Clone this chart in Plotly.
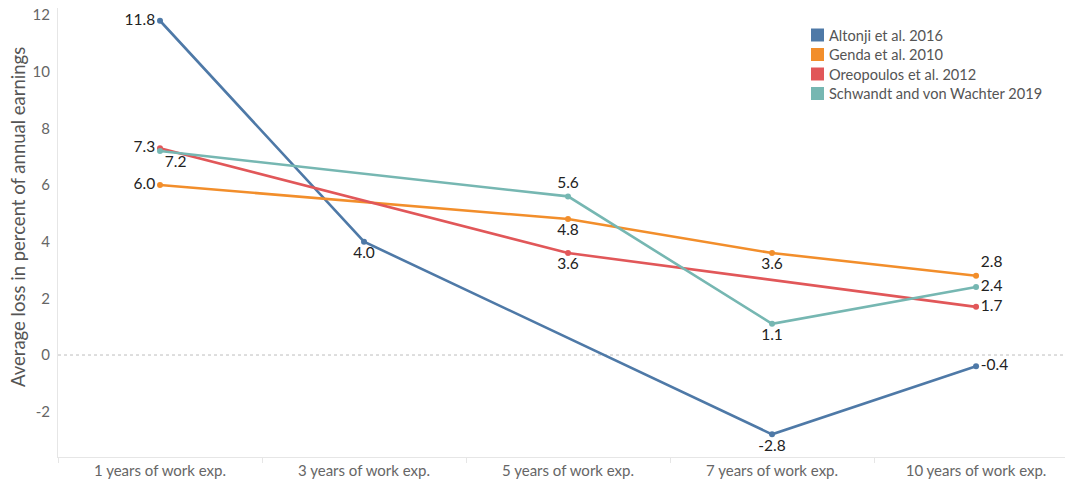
import plotly.graph_objects as go

categories = ["1 years of work exp.", "3 years of work exp.", "5 years of work exp.",
              "7 years of work exp.", "10 years of work exp."]

altonji = [11.8, 4.0, None, -2.8, -0.4]
genda = [6.0, None, 4.8, 3.6, 2.8]
oreopoulos = [7.3, None, 3.6, None, 1.7]
schwandt = [7.2, None, 5.6, 1.1, 2.4]

y_ticks = [-2, 0, 2, 4, 6, 8, 10, 12]

series = [
    ("Altonji et al. 2016", altonji, "#4e79a7",
     ["middle left", "bottom center", None, "bottom center", "middle right"]),
    ("Genda et al. 2010", genda, "#f28e2b",
     ["middle left", None, "bottom center", "bottom center", "top right"]),
    ("Oreopoulos et al. 2012", oreopoulos, "#e15759",
     ["middle left", None, "bottom center", None, "middle right"]),
    ("Schwandt and von Wachter 2019", schwandt, "#76b7b2",
     ["bottom right", None, "top center", "bottom center", "middle right"]),
]

FONT = "Lato"
W, H = 1065, 483
ML, MR, MT, MB = 58, 0, 8, 26
PW, PH = W - ML - MR, H - MT - MB


def px_x(px):
    return (px - ML) / PW


def px_y(py):
    return (H - MB - py) / PH


fig = go.Figure()

# reference line at zero
fig.add_shape(type="line", xref="paper", x0=0, x1=1, yref="y", y0=0, y1=0,
              line=dict(color="#bdbdbd", width=1, dash="dot"), layer="below")

for name, vals, color, pos in series:
    xs = [c for c, v in zip(categories, vals) if v is not None]
    ys = [v for v in vals if v is not None]
    tp = [p for p, v in zip(pos, vals) if v is not None]
    fig.add_trace(go.Scatter(
        x=xs, y=ys, mode="lines+markers+text", name=name, showlegend=False,
        line=dict(color=color, width=2.6), marker=dict(color=color, size=6),
        text=[f"{v:.1f}" for v in ys], textposition=tp,
        textfont=dict(family=FONT, size=15.5, color="#222222"),
        cliponaxis=False,
    ))

# colour legend: square swatch + series name
for i, (name, vals, color, pos) in enumerate(series):
    cy = 35 + 19.5 * i
    fig.add_shape(type="rect", xref="paper", yref="paper",
                  x0=px_x(811), x1=px_x(824), y0=px_y(cy + 6.5), y1=px_y(cy - 6.5),
                  fillcolor=color, line=dict(width=0))
    fig.add_annotation(xref="paper", yref="paper", x=px_x(827), y=px_y(cy),
                       xanchor="left", yanchor="middle", showarrow=False,
                       text=name, font=dict(family=FONT, size=14.6, color="#555555"))

# y-axis title
fig.add_annotation(xref="paper", yref="paper", x=px_x(18), y=px_y(217),
                   xanchor="center", yanchor="middle", showarrow=False, textangle=-90,
                   text="Average loss in percent of annual earnings",
                   font=dict(family=FONT, size=18.5, color="#555555"))

fig.update_layout(
    width=W, height=H,
    margin=dict(l=ML, r=MR, t=MT, b=MB),
    paper_bgcolor="white", plot_bgcolor="white",
    font=dict(family=FONT, color="#666666"),
    showlegend=False,
    xaxis=dict(type="category", categoryorder="array", categoryarray=categories,
               range=[-0.5, 4.436], showgrid=False, zeroline=False,
               showline=True, linecolor="#e6e6e6", linewidth=1,
               ticks="outside", tickson="boundaries", ticklen=5, tickcolor="#e6e6e6",
               tickfont=dict(family=FONT, size=15, color="#666666")),
    yaxis=dict(range=[-3.6, 12.25], tickvals=y_ticks,
               ticktext=[str(t) for t in y_ticks],
               showgrid=False, zeroline=False,
               showline=True, linecolor="#e6e6e6", linewidth=1,
               ticks="", ticklabelstandoff=4,
               tickfont=dict(family=FONT, size=15, color="#666666")),
)

fig.write_html("out.html")
